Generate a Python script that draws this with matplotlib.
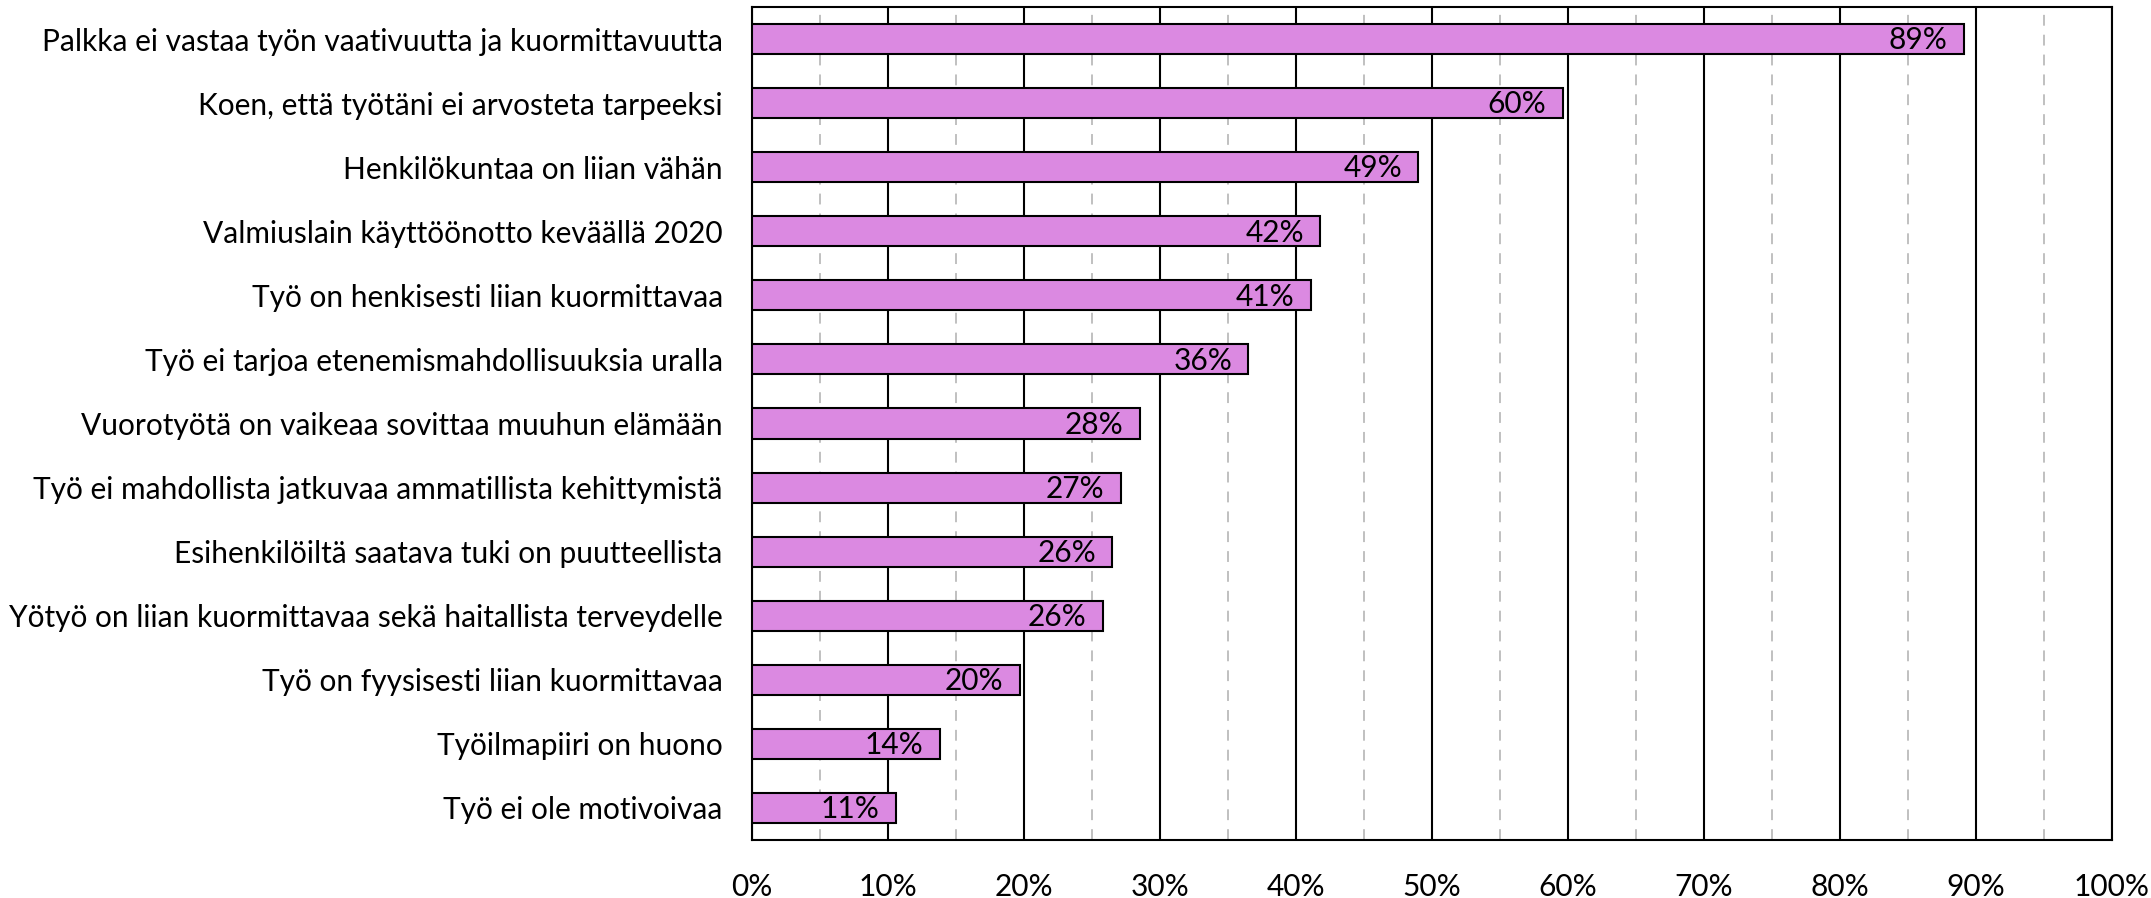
import matplotlib
matplotlib.use('Agg')
import matplotlib.pyplot as plt
from matplotlib.ticker import MultipleLocator, PercentFormatter

# syyt, ylhäältä alas
labels = ['Palkka ei vastaa työn vaativuutta ja kuormittavuutta',
          'Koen, että työtäni ei arvosteta tarpeeksi',
          'Henkilökuntaa on liian vähän',
          'Valmiuslain käyttöönotto keväällä 2020',
          'Työ on henkisesti liian kuormittavaa',
          'Työ ei tarjoa etenemismahdollisuuksia uralla',
          'Vuorotyötä on vaikeaa sovittaa muuhun elämään',
          'Työ ei mahdollista jatkuvaa ammatillista kehittymistä',
          'Esihenkilöiltä saatava tuki on puutteellista',
          'Yötyö on liian kuormittavaa sekä haitallista terveydelle',
          'Työ on fyysisesti liian kuormittavaa',
          'Työilmapiiri on huono',
          'Työ ei ole motivoivaa']
values = [89.1, 59.6, 49.0, 41.8, 41.1, 36.5, 28.5, 27.1, 26.5, 25.8, 19.7, 13.8, 10.6]
shown = ['89%', '60%', '49%', '42%', '41%', '36%', '28%', '27%', '26%', '26%', '20%', '14%', '11%']

plt.rcParams['font.family'] = ['Lato', 'DejaVu Sans']
fs = 21.5

fig = plt.figure(figsize=(21.51, 8.98), dpi=100)
ax = fig.add_axes([752/2151, 1-840/898, (2112-752)/2151, (840-7)/898])

ypos = list(range(len(labels)))[::-1]
ax.barh(ypos, values, height=0.47, color='#DB89E1', edgecolor='black', linewidth=1.5, zorder=3)
for y, v, s in zip(ypos, values, shown):
    ax.text(v - 1.2, y - 0.02, s, ha='right', va='center', fontsize=fs, zorder=4)

ax.set_xlim(0, 100)
ax.set_ylim(-0.5, len(labels) - 0.5)
ax.set_yticks(ypos)
ax.set_yticklabels(labels, fontsize=fs)
ax.xaxis.set_major_locator(MultipleLocator(10))
ax.xaxis.set_minor_locator(MultipleLocator(5))
ax.xaxis.set_major_formatter(PercentFormatter(decimals=0))
ax.tick_params(axis='x', which='both', length=0, labelsize=fs, pad=24)
ax.tick_params(axis='y', length=0, pad=21)
ax.grid(axis='x', which='major', color='black', lw=1.5, zorder=1)
ax.grid(axis='x', which='minor', color='#BBBBBB', lw=1.3, ls=(0, (6, 5)), zorder=1)
for sp in ax.spines.values():
    sp.set_linewidth(1.5)

fig.savefig('out.png', dpi=100)
